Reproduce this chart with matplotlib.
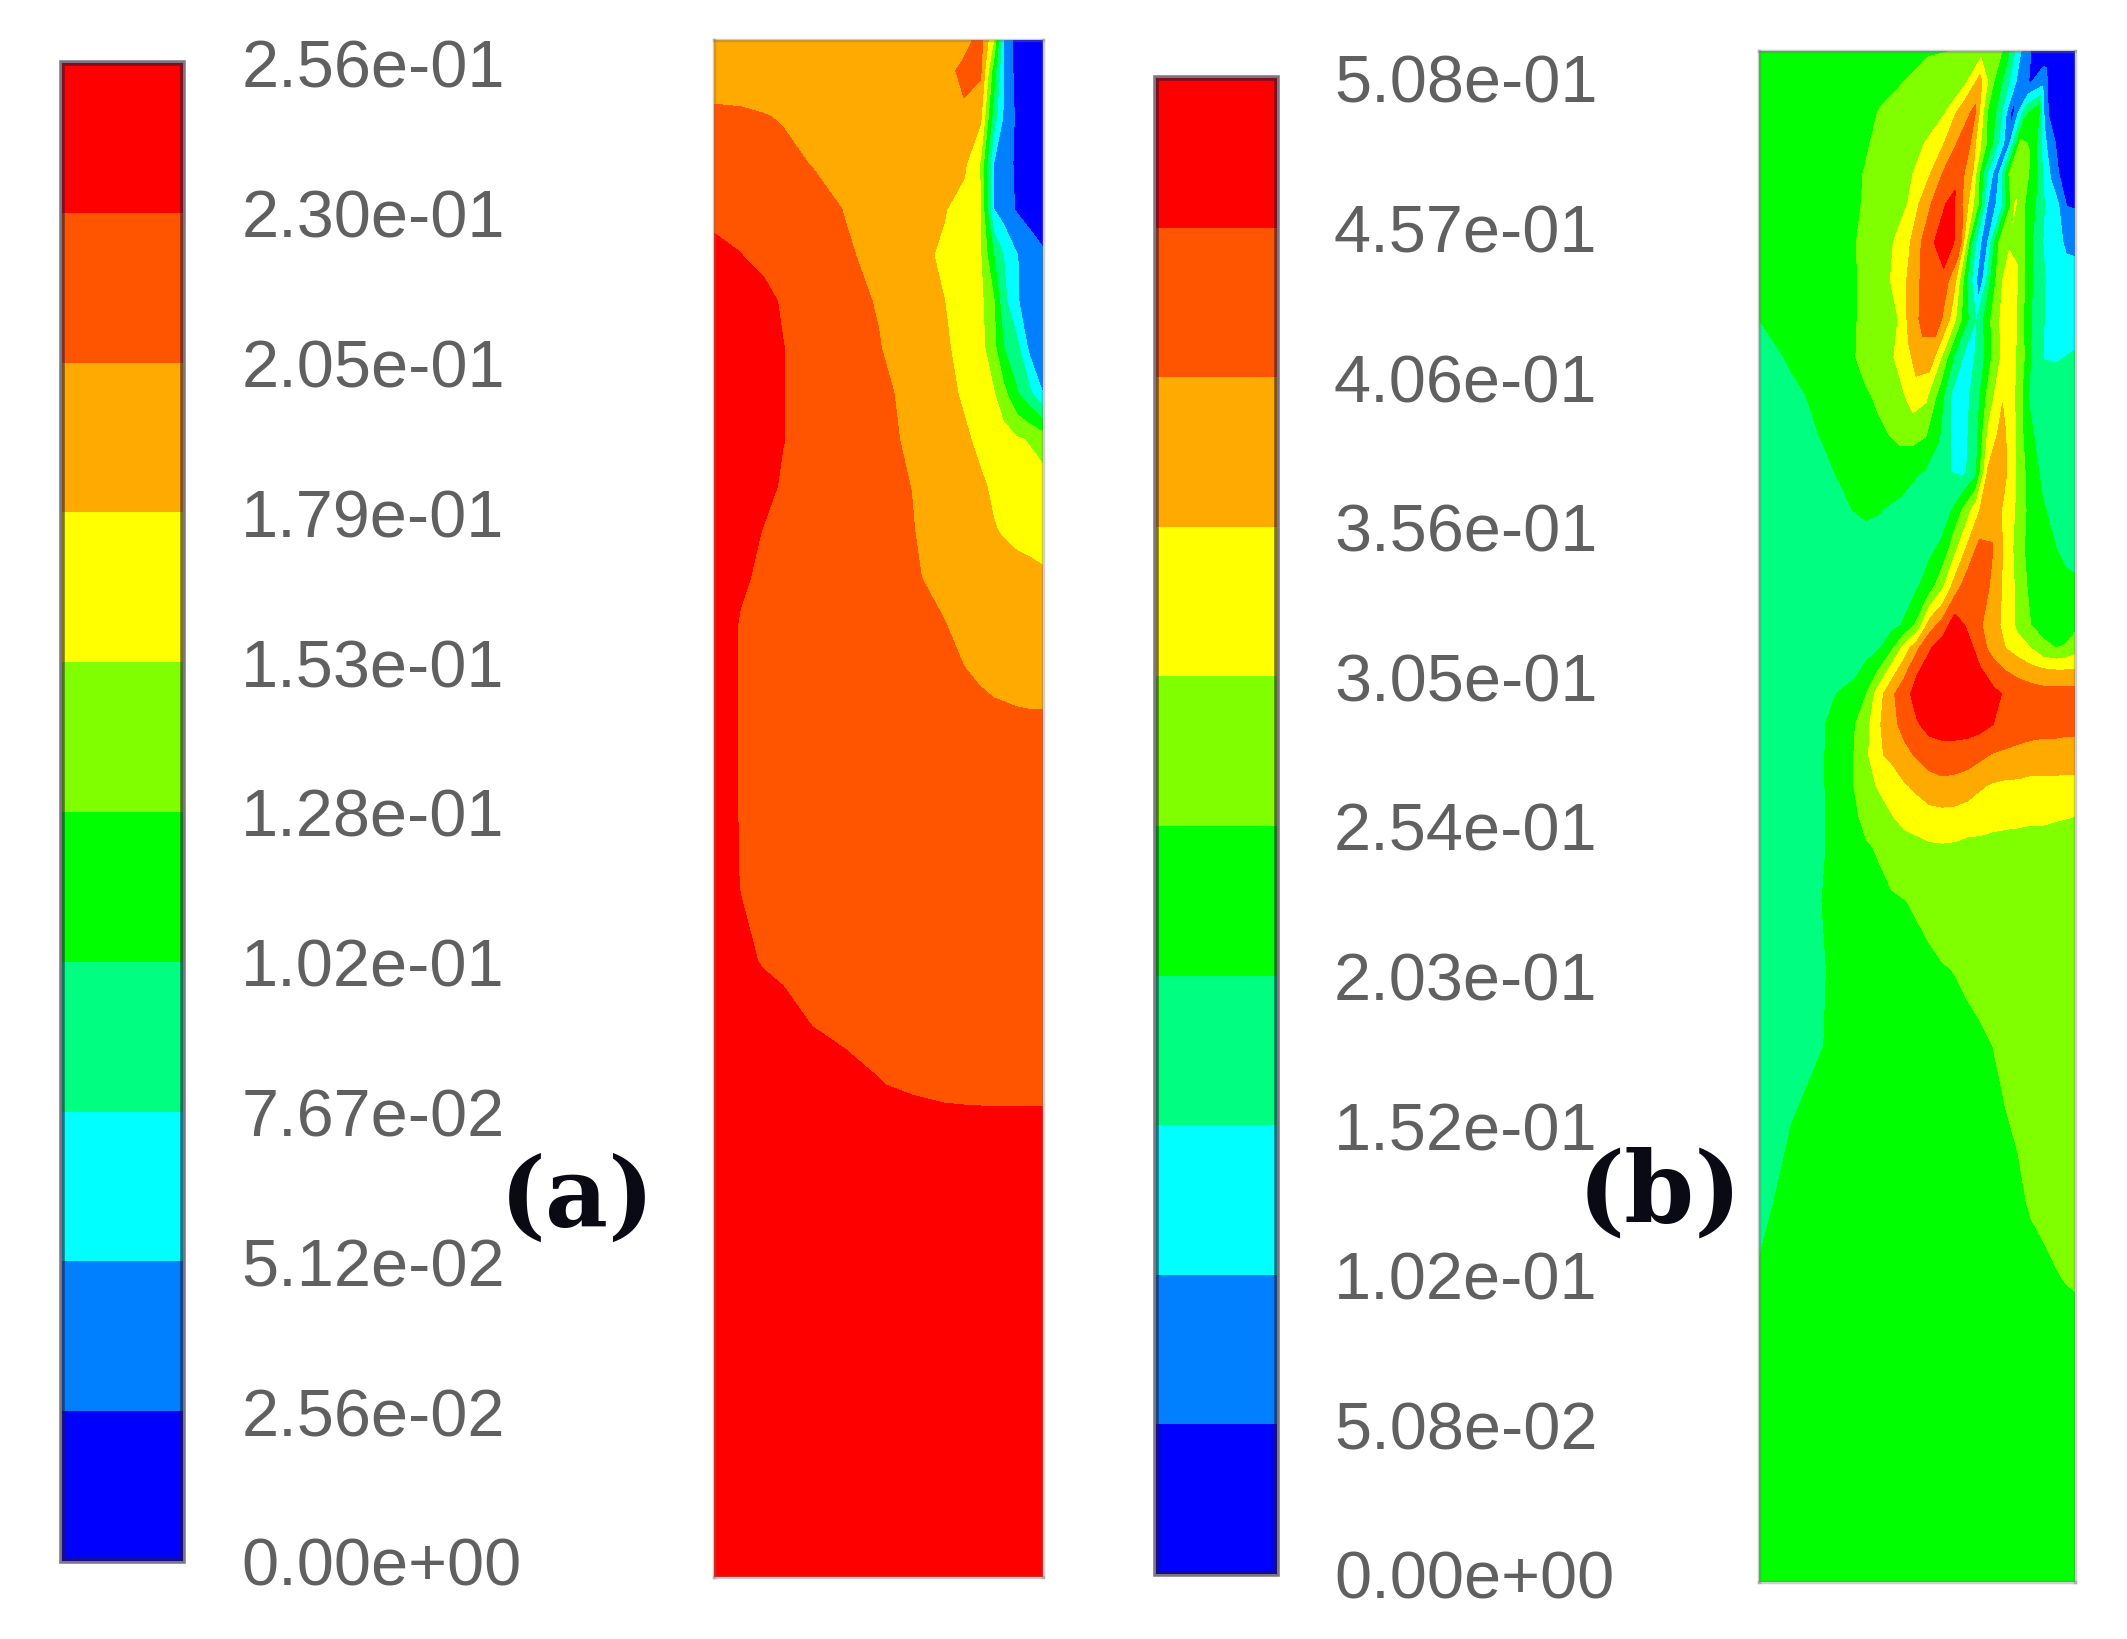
import numpy as np
import matplotlib
matplotlib.use('Agg')
import matplotlib.pyplot as plt
from matplotlib.colors import ListedColormap, BoundaryNorm

W, H = 2127, 1640

band_colors = ['#0000ff', '#0080ff', '#00ffff', '#00ff80', '#00ff00',
               '#80ff00', '#ffff00', '#ffaa00', '#ff5500', '#ff0000']

# colorbar labels, bottom to top
labels_a = ['0.00e+00', '2.56e-02', '5.12e-02', '7.67e-02', '1.02e-01', '1.28e-01',
            '1.53e-01', '1.79e-01', '2.05e-01', '2.30e-01', '2.56e-01']
labels_b = ['0.00e+00', '5.08e-02', '1.02e-01', '1.52e-01', '2.03e-01', '2.54e-01',
            '3.05e-01', '3.56e-01', '4.06e-01', '4.57e-01', '5.08e-01']
levels_a = [float(s) for s in labels_a]
levels_b = [float(s) for s in labels_b]
step_a = 0.0256
step_b = 0.0508

# field values, in units of one contour step
# x = fraction of panel width, y = fraction of panel height from the top
x_a = [0, .08, .15, .21, .3, .4, .5, .6, .7, .76, .81, .85, .88, .92, .96, 1]
y_a = [0, .02, .05, .08, .11, .14, .17, .20, .23, .26, .29, .32, .35, .38, .42, .45,
       .5, .55, .6, .64, .68, .695, .72, 1]
field_a = [
    [7.4, 7.4, 7.4, 7.4, 7.5, 7.5, 7.5, 7.5, 7.6, 7.6, 8.4, 6.0, 2.0, .6, .4, .4],
    [7.5, 7.5, 7.5, 7.5, 7.5, 7.5, 7.5, 7.5, 7.6, 8.3, 8.2, 4.5, 2.0, .6, .4, .4],
    [8.2, 8.15, 8.05, 7.95, 7.75, 7.6, 7.5, 7.5, 7.6, 7.8, 7.2, 3.5, 1.9, .8, .5, .5],
    [8.7, 8.6, 8.45, 8.2, 7.97, 7.8, 7.65, 7.5, 7.4, 7.2, 5.9, 2.0, 1.5, .8, .5, .5],
    [8.8, 8.75, 8.7, 8.5, 8.3, 7.97, 7.75, 7.5, 7.05, 6.6, 6.0, 2.0, 1.5, .9, .6, .5],
    [9.15, 9.0, 8.8, 8.6, 8.4, 8.1, 7.8, 7.3, 6.85, 6.45, 6.05, 4.0, 3.0, 2.05, 1.5, 1.1],
    [9.5, 9.4, 9.2, 8.9, 8.6, 8.25, 7.95, 7.5, 7.0, 6.65, 6.2, 5.1, 3.3, 2.1, 1.5, 1.2],
    [9.5, 9.5, 9.25, 9.0, 8.6, 8.3, 8.05, 7.55, 7.1, 6.75, 6.3, 5.3, 4.0, 3.3, 1.7, 1.2],
    [9.5, 9.5, 9.25, 9.0, 8.7, 8.4, 8.15, 7.85, 7.2, 6.9, 6.4, 6.05, 5.3, 4.1, 3.2, 2.0],
    [9.5, 9.5, 9.25, 9.0, 8.75, 8.5, 8.2, 7.9, 7.4, 7.1, 6.85, 6.6, 6.4, 6.1, 5.9, 5.6],
    [9.5, 9.4, 9.2, 8.9, 8.7, 8.45, 8.2, 8.0, 7.5, 7.25, 7.08, 6.9, 6.75, 6.6, 6.4, 6.3],
    [9.5, 9.3, 8.95, 8.8, 8.6, 8.4, 8.25, 8.05, 7.65, 7.4, 7.2, 7.03, 6.95, 6.85, 6.8, 6.7],
    [9.4, 9.05, 8.9, 8.8, 8.6, 8.4, 8.25, 8.1, 7.8, 7.6, 7.4, 7.3, 7.25, 7.2, 7.15, 7.1],
    [9.3, 8.95, 8.85, 8.75, 8.6, 8.5, 8.4, 8.3, 8.03, 7.8, 7.6, 7.5, 7.45, 7.4, 7.35, 7.3],
    [9.3, 8.95, 8.85, 8.75, 8.65, 8.55, 8.45, 8.35, 8.2, 8.1, 8.0, 7.9, 7.85, 7.8, 7.8, 7.8],
    [9.3, 8.95, 8.85, 8.8, 8.7, 8.6, 8.5, 8.45, 8.35, 8.3, 8.3, 8.3, 8.3, 8.25, 8.2, 8.2],
    [9.3, 8.95, 8.9, 8.85, 8.8, 8.7, 8.6, 8.5, 8.45, 8.4, 8.4, 8.4, 8.4, 8.4, 8.4, 8.4],
    [9.3, 8.97, 8.9, 8.85, 8.8, 8.7, 8.6, 8.5, 8.45, 8.4, 8.4, 8.4, 8.4, 8.4, 8.4, 8.4],
    [9.4, 9.1, 8.95, 8.9, 8.85, 8.8, 8.7, 8.6, 8.55, 8.5, 8.5, 8.5, 8.5, 8.5, 8.5, 8.5],
    [9.5, 9.4, 9.25, 9.12, 8.97, 8.9, 8.8, 8.7, 8.6, 8.55, 8.5, 8.5, 8.5, 8.5, 8.5, 8.5],
    [9.5, 9.5, 9.4, 9.35, 9.25, 9.1, 9.01, 8.9, 8.75, 8.7, 8.65, 8.6, 8.6, 8.6, 8.6, 8.6],
    [9.5, 9.5, 9.5, 9.45, 9.35, 9.25, 9.2, 9.1, 9.05, 9.03, 9.02, 9.02, 9.02, 9.02, 9.02, 9.02],
    [9.5, 9.5, 9.5, 9.5, 9.5, 9.4, 9.4, 9.4, 9.4, 9.4, 9.4, 9.4, 9.4, 9.4, 9.4, 9.4],
    [9.5, 9.5, 9.5, 9.5, 9.5, 9.5, 9.5, 9.5, 9.5, 9.5, 9.5, 9.5, 9.5, 9.5, 9.5, 9.5],
]

x_b = [0, .1, .2, .3, .34, .38, .42, .46, .5, .54, .58, .62, .66, .7, .74, .78, .82, .86, .9, .94, .97, 1]
y_b = [0, .02, .04, .06, .08, .10, .125, .15, .175, .2, .225, .25, .275, .30, .325, .35,
       .375, .39, .405, .42, .44, .46, .48, .5, .52, .555, .6, .65, .7, .75, .8, .82, 1]
# the jets near the top lean over, so the grid columns lean with them
lean_row_b = [.1635, .158, .142, .127, .092, .071, .055, .039, .028, .005, -.011, -.014, -.016, -.011,
              0, 0, 0, 0, 0, 0, 0, 0, 0, 0, 0, 0, 0, 0, 0, 0, 0, 0, 0]
lean_col_b = [0, 0, 0, .15, .3, .5, .7, .9, 1, 1, 1, 1, 1, 1, 1, .8, .6, .4, .25, .12, .04, 0]
field_b = [
    [4.5, 4.5, 4.6, 4.7, 4.75, 4.8, 4.9, 5.0, 5.3, 5.6, 5.9, 4.5, 2.2, .9, .5, .5, .5, .5, .5, .5, .5, .5],
    [4.5, 4.5, 4.5, 4.6, 4.75, 5.0, 5.4, 5.8, 5.95, 7.4, 5.2, 3.6, 1.8, .9, 1.5, 1.4, .9, .7, .5, .5, .5, .5],
    [4.5, 4.5, 4.5, 4.65, 5.05, 5.35, 5.7, 5.95, 7.5, 8.2, 5.0, 3.5, .6, 3.6, 4.8, 3.0, 1.6, .9, .6, .5, .5, .5],
    [4.5, 4.5, 4.5, 4.75, 5.2, 5.45, 5.8, 6.7, 8.0, 8.1, 5.7, 3.6, 1.3, 5.2, 4.8, 3.8, 2.8, 1.9, 1.1, .7, .5, .5],
    [4.5, 4.5, 4.5, 4.9, 5.25, 5.55, 5.95, 7.0, 8.3, 8.5, 7.3, 3.6, 1.3, 5.1, 5.5, 5.0, 4.4, 3.0, 1.9, .9, .5, .5],
    [4.5, 4.5, 4.5, 4.9, 5.3, 5.6, 6.0, 7.5, 8.6, 9.4, 7.6, 5.3, 1.2, 2.9, 6.1, 5.1, 4.5, 3.4, 2.6, 2.0, .95, .9],
    [4.5, 4.5, 4.5, 5.0, 5.4, 5.8, 6.4, 7.9, 9.0, 9.6, 8.5, 3.7, 1.2, 4.9, 5.9, 5.6, 4.5, 3.3, 2.7, 2.3, 1.8, 1.7],
    [4.5, 4.5, 4.5, 4.95, 5.35, 5.75, 6.5, 7.7, 8.6, 8.7, 7.3, 3.9, 1.3, 4.5, 6.4, 6.3, 4.9, 3.6, 2.9, 2.5, 2.5, 2.5],
    [4.0, 4.4, 4.5, 4.95, 5.3, 5.7, 6.0, 7.6, 8.4, 8.4, 6.8, 4.6, 2.9, 4.8, 6.2, 6.5, 5.0, 3.6, 2.9, 2.5, 2.5, 2.5],
    [3.6, 4.1, 4.5, 4.95, 5.3, 5.6, 5.95, 6.6, 7.5, 7.5, 5.6, 3.5, 2.5, 3.6, 5.4, 6.6, 5.8, 3.9, 2.95, 2.9, 3.0, 3.1],
    [3.5, 3.8, 4.2, 4.7, 4.9, 5.1, 5.4, 5.8, 6.5, 6.2, 4.7, 2.9, 2.6, 3.5, 5.5, 6.9, 5.9, 3.9, 3.6, 3.5, 3.5, 3.5],
    [3.5, 3.6, 4.05, 4.5, 4.7, 4.85, 5.0, 5.3, 5.4, 5.1, 4.2, 3.0, 2.6, 3.6, 6.2, 7.4, 6.0, 4.2, 3.6, 3.5, 3.5, 3.5],
    [3.5, 3.5, 3.8, 4.3, 4.5, 4.5, 4.5, 4.35, 4.1, 3.95, 3.4, 3.0, 2.7, 3.6, 7.1, 7.6, 6.1, 4.6, 3.8, 3.5, 3.5, 3.5],
    [3.5, 3.5, 3.6, 4.0, 4.1, 4.05, 3.9, 3.8, 3.7, 3.6, 3.4, 3.98, 5.2, 6.7, 7.95, 6.9, 5.9, 4.7, 4.1, 3.7, 3.5, 3.5],
    [3.5, 3.5, 3.5, 3.6, 3.7, 3.6, 3.5, 3.5, 3.6, 3.8, 4.2, 5.7, 7.2, 8.4, 8.0, 6.7, 5.5, 4.5, 4.3, 4.0, 3.7, 3.6],
    [3.5, 3.5, 3.5, 3.5, 3.5, 3.5, 3.5, 3.6, 3.9, 4.5, 5.8, 7.5, 8.6, 8.7, 7.7, 6.7, 5.7, 4.7, 4.6, 4.5, 4.3, 4.2],
    [3.5, 3.5, 3.5, 3.5, 3.5, 3.5, 3.7, 4.1, 5.2, 7.5, 8.4, 9.6, 8.8, 8.1, 7.4, 6.7, 5.7, 5.0, 4.7, 4.5, 4.5, 4.7],
    [3.5, 3.5, 3.5, 3.5, 3.6, 3.9, 4.8, 6.4, 7.8, 8.9, 9.5, 9.6, 9.4, 8.5, 7.5, 7.0, 6.5, 6.0, 5.2, 5.0, 5.1, 5.6],
    [3.5, 3.5, 3.5, 3.7, 4.3, 5.1, 6.5, 7.7, 8.9, 9.4, 9.6, 9.6, 9.5, 9.1, 8.6, 8.0, 7.7, 7.4, 7.2, 7.1, 7.1, 7.1],
    [3.5, 3.5, 3.6, 4.5, 5.0, 6.6, 7.8, 8.6, 9.4, 9.6, 9.6, 9.6, 9.6, 9.5, 9.2, 8.9, 8.6, 8.5, 8.4, 8.4, 8.4, 8.4],
    [3.5, 3.5, 3.9, 4.9, 5.7, 6.9, 7.7, 8.3, 8.9, 9.3, 9.4, 9.4, 9.4, 9.3, 9.0, 8.7, 8.5, 8.4, 8.3, 8.3, 8.3, 8.3],
    [3.5, 3.5, 3.9, 5.0, 5.8, 6.9, 7.2, 7.7, 8.1, 8.5, 8.6, 8.6, 8.5, 8.2, 7.9, 7.8, 7.7, 7.6, 7.6, 7.6, 7.5, 7.5],
    [3.5, 3.5, 3.9, 5.0, 5.7, 6.1, 6.5, 6.9, 7.2, 7.5, 7.7, 7.6, 7.4, 7.1, 6.9, 6.8, 6.8, 6.7, 6.7, 6.7, 6.7, 6.7],
    [3.5, 3.5, 3.9, 4.8, 5.3, 5.6, 5.95, 6.3, 6.5, 6.7, 6.7, 6.7, 6.6, 6.5, 6.4, 6.3, 6.3, 6.2, 6.2, 6.1, 6.05, 6.0],
    [3.5, 3.5, 3.9, 4.7, 4.9, 5.1, 5.4, 5.6, 5.7, 5.85, 5.9, 5.85, 5.7, 5.7, 5.6, 5.6, 5.5, 5.5, 5.5, 5.5, 5.5, 5.5],
    [3.5, 3.5, 4.0, 4.4, 4.6, 4.75, 4.9, 4.98, 5.1, 5.25, 5.4, 5.4, 5.4, 5.4, 5.4, 5.4, 5.4, 5.4, 5.4, 5.4, 5.4, 5.4],
    [3.5, 3.6, 3.95, 4.3, 4.4, 4.5, 4.6, 4.65, 4.75, 4.85, 4.95, 5.02, 5.1, 5.2, 5.3, 5.4, 5.4, 5.4, 5.4, 5.4, 5.4, 5.4],
    [3.5, 3.7, 3.98, 4.3, 4.4, 4.5, 4.5, 4.5, 4.55, 4.6, 4.7, 4.75, 4.85, 4.9, 5.0, 5.2, 5.3, 5.4, 5.4, 5.4, 5.4, 5.4],
    [3.5, 3.98, 4.3, 4.5, 4.5, 4.5, 4.5, 4.5, 4.5, 4.5, 4.5, 4.6, 4.7, 4.8, 4.9, 4.95, 5.1, 5.3, 5.4, 5.4, 5.4, 5.4],
    [3.8, 4.2, 4.5, 4.5, 4.5, 4.5, 4.5, 4.5, 4.5, 4.5, 4.5, 4.5, 4.5, 4.6, 4.7, 4.75, 4.85, 5.1, 5.3, 5.4, 5.4, 5.4],
    [4.05, 4.3, 4.5, 4.5, 4.5, 4.5, 4.5, 4.5, 4.5, 4.5, 4.5, 4.5, 4.5, 4.5, 4.5, 4.6, 4.7, 4.7, 4.75, 4.95, 5.05, 5.1],
    [4.2, 4.4, 4.5, 4.5, 4.5, 4.5, 4.5, 4.5, 4.5, 4.5, 4.5, 4.5, 4.5, 4.5, 4.5, 4.5, 4.6, 4.6, 4.7, 4.8, 4.85, 4.9],
    [4.5, 4.5, 4.5, 4.5, 4.5, 4.5, 4.5, 4.5, 4.5, 4.5, 4.5, 4.5, 4.5, 4.5, 4.5, 4.5, 4.5, 4.5, 4.5, 4.5, 4.5, 4.5],
]


def add_axes_px(fig, left, top, right, bottom):
    # pixel box measured from the top left of the picture
    return fig.add_axes([left / W, 1 - bottom / H, (right - left) / W, (bottom - top) / H])


def draw_panel(fig, box, bar_box, xs, ys, field, step, levels, labels, letter, letter_pos, letter_size, pad):
    cmap = ListedColormap(band_colors)
    norm = BoundaryNorm(levels, cmap.N)

    ax = add_axes_px(fig, *box)
    cf = ax.contourf(xs, ys, np.array(field) * step, levels=levels, cmap=cmap, norm=norm, extend='neither')
    ax.set_xlim(0, 1)
    ax.set_ylim(1, 0)
    ax.set_xticks([])
    ax.set_yticks([])
    for side in ax.spines.values():
        side.set_color((0.45, 0.45, 0.45, 0.35))
        side.set_linewidth(2.5)

    cax = add_axes_px(fig, *bar_box)
    cb = fig.colorbar(cf, cax=cax, ticks=levels, spacing='uniform')
    cb.ax.set_yticklabels(labels, family='Liberation Sans', fontsize=48, color='#606060')
    cb.ax.tick_params(length=0, pad=pad)
    cb.outline.set_edgecolor((0.15, 0.1, 0.2, 0.6))
    cb.outline.set_linewidth(4)

    fig.text(letter_pos[0] / W, 1 - letter_pos[1] / H, letter, family='DejaVu Serif',
             weight='bold', fontsize=letter_size, ha='center', va='center', color='#0a0a14')


def main():
    fig = plt.figure(figsize=(W / 100, H / 100), dpi=100, facecolor='white')

    xa, ya = np.meshgrid(x_a, y_a)
    xb, yb = np.meshgrid(x_b, y_b)
    xb = xb + np.outer(lean_row_b, lean_col_b)

    draw_panel(fig, (714, 41, 1043, 1578), (62, 64, 183, 1562), xa, ya, field_a, step_a,
               levels_a, labels_a, '(a)', (577, 1200), 70, 42)
    draw_panel(fig, (1759, 52, 2075, 1583), (1156, 79, 1277, 1575), xb, yb, field_b, step_b,
               levels_b, labels_b, '(b)', (1660, 1195), 72, 41)
    fig.savefig('out.png', dpi=100)


if __name__ == '__main__':
    main()
